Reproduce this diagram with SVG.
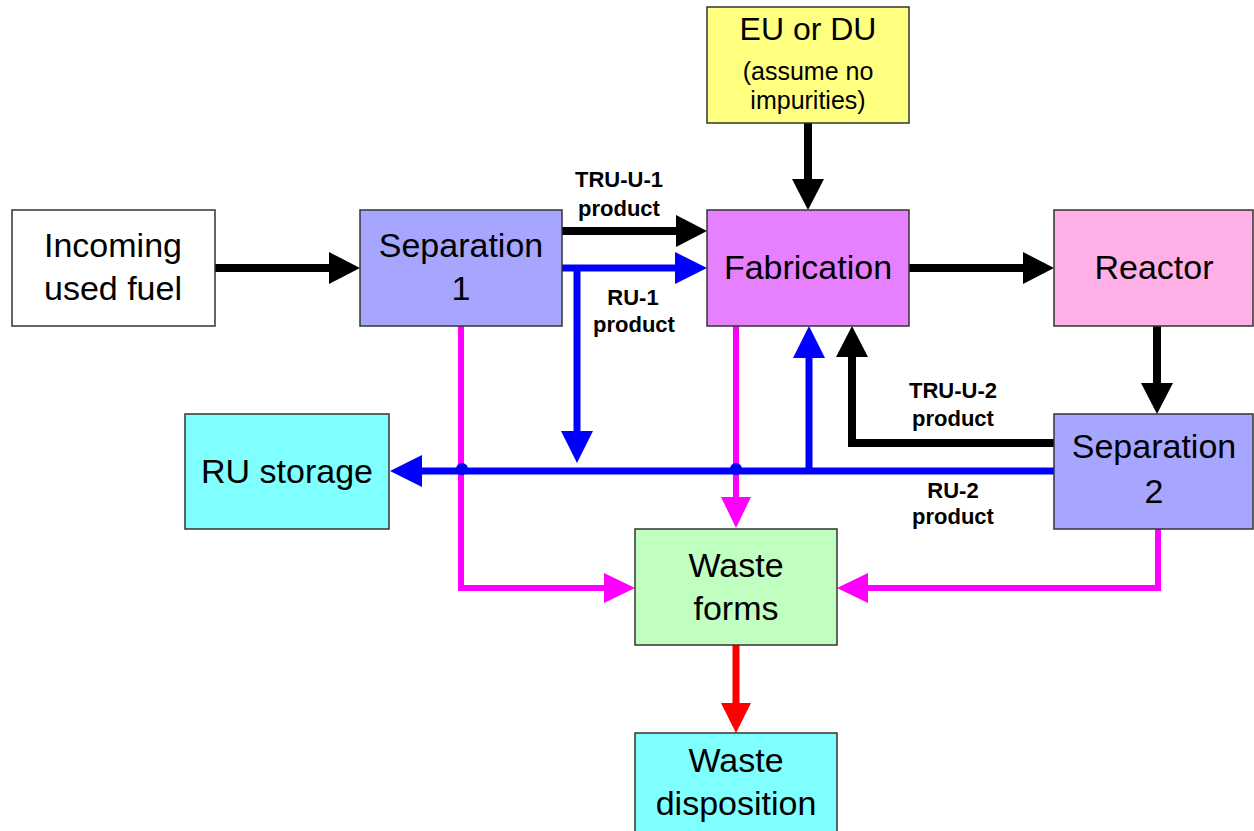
<svg xmlns="http://www.w3.org/2000/svg" width="1254" height="831" viewBox="0 0 1254 831">
<style>
.box{stroke:#333;stroke-width:1.5}
.t{font-family:"Liberation Sans",Arial,sans-serif;font-size:34px;text-anchor:middle;fill:#000}
.s{font-family:"Liberation Sans",Arial,sans-serif;font-size:25px;text-anchor:middle;fill:#000}
.lb{font-family:"Liberation Sans",Arial,sans-serif;font-size:22px;font-weight:bold;text-anchor:middle;fill:#000}
.k{fill:none;stroke:#000;stroke-width:8}
.b{fill:none;stroke:#0000ff;stroke-width:7}
.m{fill:none;stroke:#ff00ff;stroke-width:6}
.r{fill:none;stroke:#ff0000;stroke-width:7}
</style>
<defs>
<marker id="ak" markerUnits="userSpaceOnUse" markerWidth="32" markerHeight="34" refX="0" refY="16" orient="auto"><path d="M0,0 L31,16 L0,32 z" fill="#000"/></marker>
<marker id="ab" markerUnits="userSpaceOnUse" markerWidth="33" markerHeight="34" refX="0" refY="16" orient="auto"><path d="M0,0 L32,16 L0,32 z" fill="#0000ff"/></marker>
<marker id="am" markerUnits="userSpaceOnUse" markerWidth="32" markerHeight="32" refX="0" refY="15" orient="auto"><path d="M0,0 L31,15 L0,30 z" fill="#ff00ff"/></marker>
<marker id="ar" markerUnits="userSpaceOnUse" markerWidth="32" markerHeight="32" refX="0" refY="15" orient="auto"><path d="M0,0 L30,15 L0,30 z" fill="#ff0000"/></marker>
</defs>
<rect width="1254" height="831" fill="#fff"/>

<g id="connectors">
<path class="m" d="M461,326 V588 H604" marker-end="url(#am)"/>
<path class="m" d="M736,326 V497" marker-end="url(#am)"/>
<path class="m" d="M1158,529 V588 H868" marker-end="url(#am)"/>
<path class="k" d="M215,268 H329" marker-end="url(#ak)"/>
<path class="k" d="M562,231 H676" marker-end="url(#ak)"/>
<path class="b" d="M562,268 H675" marker-end="url(#ab)"/>
<path class="b" d="M577,268 V431" marker-end="url(#ab)"/>
<path class="k" d="M808,123 V179" marker-end="url(#ak)"/>
<path class="k" d="M909,268 H1023" marker-end="url(#ak)"/>
<path class="k" d="M1157,326 V383" marker-end="url(#ak)"/>
<path class="k" d="M1058,443 H852 V357" marker-end="url(#ak)"/>
<path class="b" d="M1058,471 H422" marker-end="url(#ab)"/>
<path class="b" d="M809,471 V358" marker-end="url(#ab)"/>
<circle cx="462" cy="469" r="6" fill="#0000ff"/>
<circle cx="736" cy="469" r="6" fill="#0000ff"/>
<path class="r" d="M736,645 V703" marker-end="url(#ar)"/>
</g>

<g id="incoming">
<rect class="box" x="12" y="210" width="203" height="116" fill="#fff"/>
<text class="t" x="113" y="257">Incoming</text>
<text class="t" x="113" y="300">used fuel</text>
</g>
<g id="sep1">
<rect class="box" x="360" y="210" width="202" height="116" fill="#a6a6ff"/>
<text class="t" x="461" y="257">Separation</text>
<text class="t" x="461" y="300">1</text>
</g>
<g id="fabrication">
<rect class="box" x="707" y="210" width="202" height="116" fill="#e680ff"/>
<text class="t" x="808" y="279">Fabrication</text>
</g>
<g id="reactor">
<rect class="box" x="1054" y="210" width="199" height="116" fill="#ffb0e6"/>
<text class="t" x="1154" y="279">Reactor</text>
</g>
<g id="eudu">
<rect class="box" x="707" y="7" width="202" height="116" fill="#ffff80"/>
<text class="t" x="808" y="40" style="font-size:32px">EU or DU</text>
<text class="s" x="808" y="80">(assume no</text>
<text class="s" x="808" y="109">impurities)</text>
</g>
<g id="rustorage">
<rect class="box" x="185" y="414" width="204" height="115" fill="#80ffff"/>
<text class="t" x="287" y="483">RU storage</text>
</g>
<g id="sep2">
<rect class="box" x="1054" y="414" width="199" height="115" fill="#a6a6ff"/>
<text class="t" x="1154" y="458">Separation</text>
<text class="t" x="1154" y="503">2</text>
</g>
<g id="wasteforms">
<rect class="box" x="635" y="529" width="202" height="116" fill="#c0ffc0"/>
<text class="t" x="736" y="577">Waste</text>
<text class="t" x="736" y="620">forms</text>
</g>
<g id="wastedisp">
<rect class="box" x="635" y="733" width="202" height="110" fill="#80ffff"/>
<text class="t" x="736" y="772">Waste</text>
<text class="t" x="736" y="815">disposition</text>
</g>

<g id="labels">
<text class="lb" x="619" y="187">TRU-U-1</text>
<text class="lb" x="619" y="216">product</text>
<text class="lb" x="633" y="305">RU-1</text>
<text class="lb" x="634" y="332">product</text>
<text class="lb" x="953" y="398">TRU-U-2</text>
<text class="lb" x="953" y="426">product</text>
<text class="lb" x="953" y="498">RU-2</text>
<text class="lb" x="953" y="524">product</text>
</g>
</svg>
